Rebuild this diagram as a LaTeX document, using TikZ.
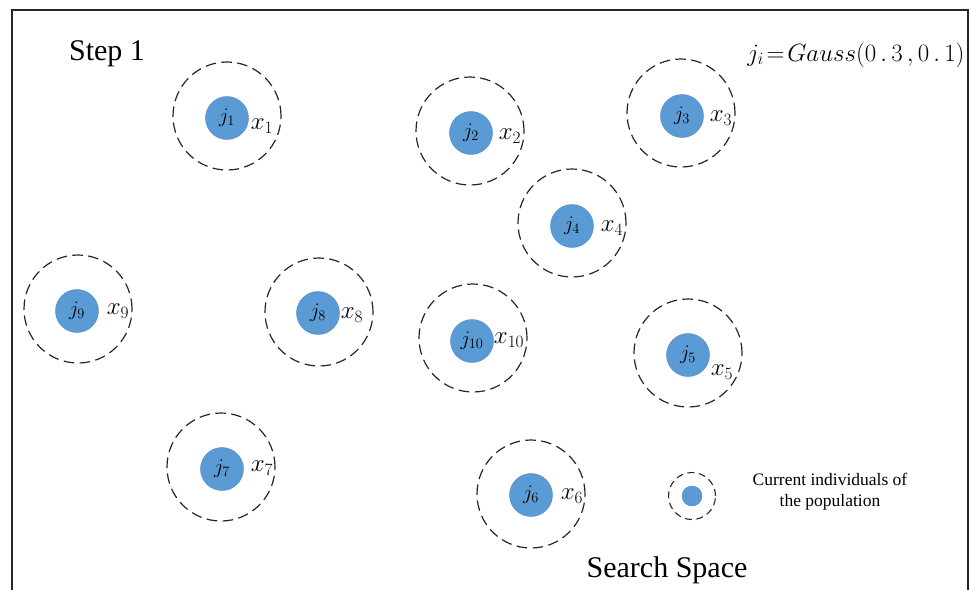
\documentclass[tikz,border=0pt]{standalone}
\usepackage[no-math]{fontspec}
\setmainfont{Liberation Serif}
\definecolor{indblue}{HTML}{5B9BD5}
\definecolor{indedge}{HTML}{4A86C0}
\tikzset{
  zone/.style={circle, draw=black!85, line width=1.2pt, dash pattern=on 10.5pt off 5.5pt, minimum size=#1, inner sep=0pt},
  zone/.default=108pt,
  indiv/.style={circle, fill=indblue, draw=indedge, line width=0.4pt, minimum size=#1, inner sep=0pt, font=\fontsize{22}{26}\selectfont},
  indiv/.default=43pt,
  xlab/.style={inner sep=0pt, font=\fontsize{23}{27}\selectfont},
  bigtext/.style={inner sep=0pt, anchor=base, font=\fontsize{30}{36}\selectfont},
}
\begin{document}
\begin{tikzpicture}[x=1pt,y=-1pt]
\useasboundingbox (0,0) rectangle (970,590);
% frame (open at the bottom)
\coordinate (fbl) at (12,590);
\coordinate (ftl) at (12,10);
\coordinate (ftr) at (968,10);
\coordinate (fbr) at (968,590);
\draw[line width=1.6pt, black!85] (fbl) -- (ftl) -- (ftr) -- (fbr);

\node[bigtext] (step) at (107,60) {Step 1};
\node[bigtext] (space) at (667,577) {Search Space};
\node[inner sep=0pt, font=\fontsize{24.5}{29}\selectfont] (formula) at (856,55) {$j_i\!=\!Gauss(0\,.\,3\,,0\,.\,1)$};

% individuals
\node[zone] (z1) at (227,116) {};
\node[indiv] (j1) at (227,118) {$j_1$};
\node[xlab] (x1) at (262,126) {$x_1$};

\node[zone] (z2) at (470,131) {};
\node[indiv] (j2) at (471,133) {$j_2$};
\node[xlab] (x2) at (510,136) {$x_2$};

\node[zone] (z3) at (681,113) {};
\node[indiv] (j3) at (682,116) {$j_3$};
\node[xlab] (x3) at (721,118) {$x_3$};

\node[zone] (z4) at (572,223) {};
\node[indiv] (j4) at (572,226) {$j_4$};
\node[xlab] (x4) at (612,228) {$x_4$};

\node[zone] (z5) at (688,353) {};
\node[indiv] (j5) at (688,355) {$j_5$};
\node[xlab] (x5) at (722,372) {$x_5$};

\node[zone] (z6) at (531,494) {};
\node[indiv] (j6) at (531,495) {$j_6$};
\node[xlab] (x6) at (572,496) {$x_6$};

\node[zone] (z7) at (221,467) {};
\node[indiv] (j7) at (222,469) {$j_7$};
\node[xlab] (x7) at (262,468) {$x_7$};

\node[zone] (z8) at (319,312) {};
\node[indiv] (j8) at (318,313) {$j_8$};
\node[xlab] (x8) at (352,315) {$x_8$};

\node[zone] (z9) at (78,309) {};
\node[indiv] (j9) at (77,311) {$j_9$};
\node[xlab] (x9) at (118,311) {$x_9$};

\node[zone] (z10) at (473,338) {};
\node[indiv] (j10) at (472,341) {$j_{10}$};
\node[xlab] (x10) at (509,340) {$x_{10}$};

% legend
\node[zone=47pt, line width=1.1pt, dash pattern=on 7pt off 4.5pt] (lz) at (692,496) {};
\node[indiv=20pt] (lj) at (692,496) {};
\node[inner sep=0pt, align=center, font=\fontsize{17.5}{21}\selectfont] (legtext) at (830,492) {Current individuals of\\the population};
\end{tikzpicture}
\end{document}
